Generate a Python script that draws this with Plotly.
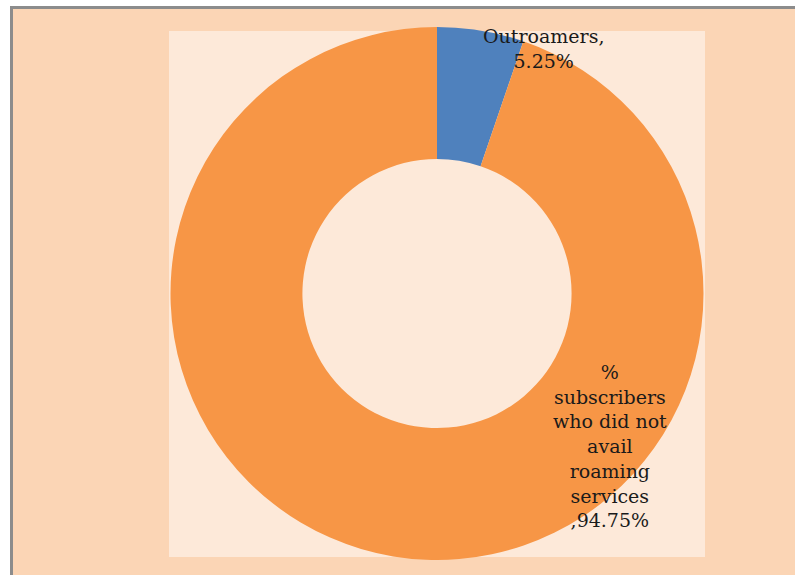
import plotly.graph_objects as go

# Share of subscribers by roaming usage
labels = ["Outroamers", "% subscribers who did not avail roaming services"]
label_lines = [["Outroamers,"], ["%", "subscribers", "who did not", "avail", "roaming", "services"]]
values = [5.25, 94.75]
colors = ["#4F81BD", "#F79646"]

W, H = 795, 575


def px(x):
    return x / W


def py(y):
    return 1 - y / H


fig = go.Figure(
    go.Pie(
        labels=labels,
        values=values,
        hole=0.505,
        sort=False,
        direction="clockwise",
        rotation=0,
        marker=dict(colors=colors, line=dict(width=0)),
        textinfo="none",
        hoverinfo="label+percent",
        showlegend=False,
        domain=dict(x=[px(169), px(705)], y=[py(560), py(27)]),
    )
)

# Chart frame, outer fill and inner plot area
shapes = [
    dict(type="rect", xref="paper", yref="paper",
         x0=px(11.5), x1=px(W + 5), y0=py(H + 5), y1=py(7.5),
         fillcolor="#FBD5B5", line=dict(color="#8C8C8C", width=3), layer="below"),
    dict(type="rect", xref="paper", yref="paper",
         x0=px(169), x1=px(705), y0=py(557), y1=py(31),
         fillcolor="#FDE9D9", line=dict(width=0), layer="below"),
]

font = dict(family="DejaVu Serif", size=19, color="#1a1a1a")

annotations = []
# outroamer label above the small slice
txt0 = "<br>".join(label_lines[0] + [f"{values[0]:.2f}%"])
annotations.append(dict(x=px(543), y=py(48), xref="paper", yref="paper",
                        xanchor="center", yanchor="middle",
                        text=txt0, showarrow=False, font=font, align="center"))
# label for the large slice
txt1 = "<br>".join(label_lines[1] + [f",{values[1]:.2f}%"])
annotations.append(dict(x=px(610), y=py(446), xref="paper", yref="paper",
                        xanchor="center", yanchor="middle",
                        text=txt1, showarrow=False, font=font, align="center"))

fig.update_layout(
    width=W, height=H,
    margin=dict(l=0, r=0, t=0, b=0),
    paper_bgcolor="white",
    plot_bgcolor="white",
    shapes=shapes,
    annotations=annotations,
)

fig.write_html("out.html")
